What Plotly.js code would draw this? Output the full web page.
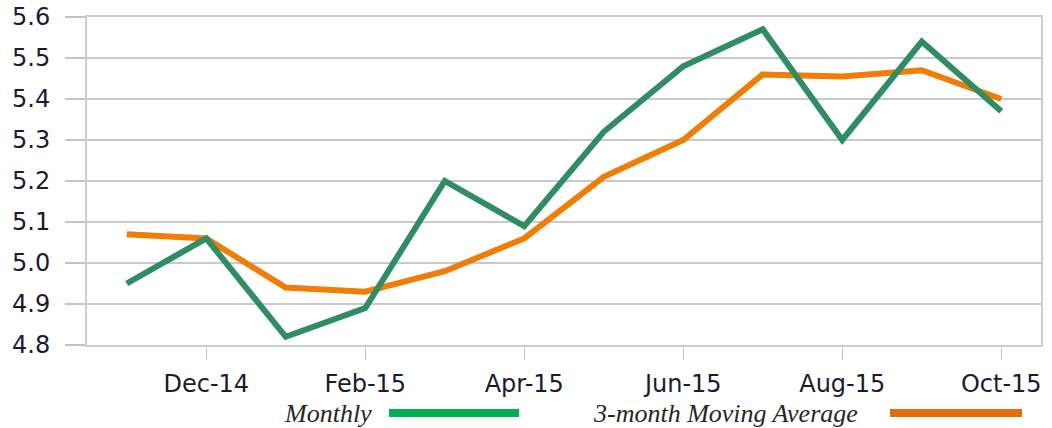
<!DOCTYPE html>
<html>
<head>
<meta charset="utf-8">
<script src="https://cdn.plot.ly/plotly-3.0.1.min.js"></script>
<style>html,body{margin:0;padding:0;background:#fff;}#chart{width:1052px;height:428px;}</style>
</head>
<body>
<div id="chart"></div>
<script>
const months = ['Nov-14','Dec-14','Jan-15','Feb-15','Mar-15','Apr-15','May-15','Jun-15','Jul-15','Aug-15','Sep-15','Oct-15'];
const monthly = [4.95, 5.06, 4.82, 4.89, 5.20, 5.09, 5.32, 5.48, 5.57, 5.30, 5.54, 5.37];
const movingAvg = [5.07, 5.06, 4.94, 4.93, 4.98, 5.06, 5.21, 5.30, 5.46, 5.455, 5.47, 5.40];
const xTicks = ['Dec-14','Feb-15','Apr-15','Jun-15','Aug-15','Oct-15'];
const yTicks = [4.8, 4.9, 5.0, 5.1, 5.2, 5.3, 5.4, 5.5, 5.6];
const seriesNames = ['Monthly', '3-month Moving Average'];

const tickFont = {family: 'DejaVu Sans, Arial, sans-serif', size: 24, color: '#1a1a30'};
const legendFont = {family: 'Liberation Serif, Times New Roman, serif', size: 26, color: '#262626', style: 'italic'};

const traces = [
  {x: months, y: movingAvg, type: 'scatter', mode: 'lines', name: seriesNames[1],
   line: {color: '#f07d05', width: 6}, hoverinfo: 'skip'},
  {x: months, y: monthly, type: 'scatter', mode: 'lines', name: seriesNames[0],
   line: {color: '#2f8c63', width: 6}, hoverinfo: 'skip'}
];

const layout = {
  width: 1052, height: 428,
  margin: {l: 87, r: 11, t: 17, b: 83},
  paper_bgcolor: '#ffffff', plot_bgcolor: '#ffffff',
  showlegend: false,
  xaxis: {
    type: 'category', categoryorder: 'array', categoryarray: months,
    range: [-0.5, months.length - 0.5],
    tickmode: 'array', tickvals: xTicks, ticktext: xTicks,
    ticks: 'outside', ticklen: 13, tickwidth: 1.5, tickcolor: '#c4c4c4',
    showgrid: false, zeroline: false,
    showline: true, linecolor: '#c9ced6', linewidth: 2, mirror: true,
    tickfont: tickFont, ticklabelstandoff: 3
  },
  yaxis: {
    range: [4.8, 5.6], tickmode: 'array', tickvals: yTicks,
    ticktext: yTicks.map(v => v.toFixed(1)),
    ticks: 'outside', ticklen: 20, tickwidth: 1.5, tickcolor: '#c4c4c4',
    showgrid: true, gridcolor: '#c9c9c9', gridwidth: 1.5, zeroline: false,
    showline: true, linecolor: '#c9ced6', linewidth: 2, mirror: true,
    tickfont: tickFont, ticklabelstandoff: 10
  },
  annotations: [
    {xref: 'paper', yref: 'paper', x: (374 - 87) / 954, y: (345 - 413) / 328, xanchor: 'right', yanchor: 'middle',
     text: seriesNames[0], showarrow: false, font: legendFont},
    {xref: 'paper', yref: 'paper', x: (860 - 87) / 954, y: (345 - 413) / 328, xanchor: 'right', yanchor: 'middle',
     text: seriesNames[1], showarrow: false, font: legendFont}
  ],
  shapes: [
    {type: 'line', xref: 'paper', yref: 'paper', x0: (389 - 87) / 954, x1: (519 - 87) / 954,
     y0: (345 - 413) / 328, y1: (345 - 413) / 328, line: {color: '#00b050', width: 8}},
    {type: 'line', xref: 'paper', yref: 'paper', x0: (890 - 87) / 954, x1: (1022 - 87) / 954,
     y0: (345 - 413) / 328, y1: (345 - 413) / 328, line: {color: '#e46c0a', width: 8}}
  ]
};

Plotly.newPlot('chart', traces, layout, {staticPlot: true, displayModeBar: false});
</script>
</body>
</html>
